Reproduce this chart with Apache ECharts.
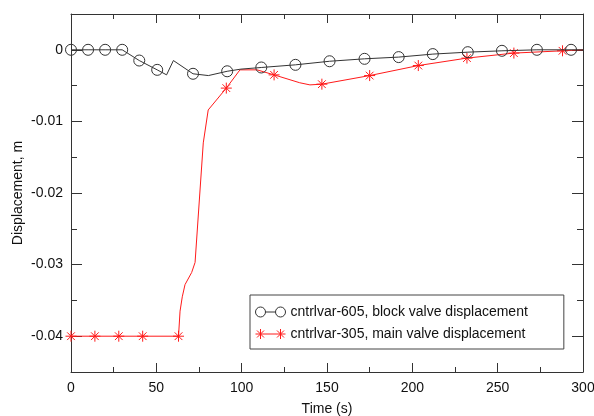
<!DOCTYPE html>
<html>
<head>
<meta charset="utf-8">
<script src="https://cdn.jsdelivr.net/npm/echarts@6/dist/echarts.min.js"></script>
<style>
  html, body { margin: 0; padding: 0; background: #fff; }
  #chart { width: 594px; height: 416px; }
</style>
</head>
<body>
<div id="chart"></div>
<script>
// Block valve displacement (cntrlvar-605)
const blockTime = [0, 10, 20, 30, 40, 50.5, 56, 60, 71.5, 80.5, 91.5, 99.5, 111.5, 131.5, 151.5, 172, 192, 212, 232.5, 252.5, 273, 293, 300];
const blockDisp = [0, 0, 0, 0, -0.0015, -0.0028, -0.0035, -0.0015, -0.00335, -0.0036, -0.003, -0.0027, -0.00247, -0.0021, -0.0016, -0.00126, -0.00102, -0.0006, -0.00033, -0.00014, 0, 0, 0];
const blockMarkerAt = [0, 10, 20, 30, 40, 50.5, 71.5, 91.5, 111.5, 131.5, 151.5, 172, 192, 212, 232.5, 252.5, 273, 293];

// Main valve displacement (cntrlvar-305)
const mainTime = [0, 14, 28, 42, 63, 63.9, 65.2, 66.8, 70.7, 72.7, 77.5, 80.4, 91, 99, 109, 119, 134, 140, 147, 175, 203.5, 232, 259.5, 288, 300];
const mainDisp = [-0.04, -0.04, -0.04, -0.04, -0.04, -0.0365, -0.0345, -0.0328, -0.0311, -0.0297, -0.013, -0.0084, -0.00535, -0.0028, -0.0028, -0.0035, -0.0046, -0.0049, -0.0048, -0.0036, -0.0022, -0.00116, -0.00046, -0.00014, 0];
const mainMarkerAt = [0, 14, 28, 42, 63, 91, 119, 147, 175, 203.5, 232, 259.5, 288];

const seriesNames = ['cntrlvar-605, block valve displacement', 'cntrlvar-305, main valve displacement'];
const xTicks = { min: 0, max: 300, step: 50 };
const yTicks = { min: -0.045, max: 0.005, step: 0.005, labelStep: 0.01 };

const INK = '#111';
const AXIS = '#333';
const FONT = 'Liberation Sans, Arial, sans-serif';

const asterisk = 'path://M0,5 L10,5 M5,0 L5,10 M1.5,1.5 L8.5,8.5 M8.5,1.5 L1.5,8.5';
const circleIcon = 'path://M0,5 A5,5 0 1,1 10,5 A5,5 0 1,1 0,5 Z M10,5 L20,5 M20,5 A5,5 0 1,1 30,5 A5,5 0 1,1 20,5 Z';
const starIcon = 'path://M0,5 L30,5 M5,0 L5,10 M1.5,1.5 L8.5,8.5 M8.5,1.5 L1.5,8.5 M25,0 L25,10 M21.5,1.5 L28.5,8.5 M28.5,1.5 L21.5,8.5';

function buildData(times, values, markers) {
  return times.map((t, i) => {
    const item = { value: [t, values[i]] };
    if (markers.indexOf(t) < 0) item.symbol = 'none';
    return item;
  });
}

function xAxisCfg(position, withLabels) {
  return {
    type: 'value', position: position,
    min: xTicks.min, max: xTicks.max, interval: xTicks.step,
    axisLine: { show: true, onZero: false, lineStyle: { color: AXIS, width: 1 } },
    axisTick: { show: true, inside: true, length: 9, lineStyle: { color: AXIS } },
    minorTick: { show: true, splitNumber: 2, length: 5, lineStyle: { color: AXIS } },
    splitLine: { show: false }, minorSplitLine: { show: false },
    axisLabel: { show: withLabels, fontSize: 14, color: INK, fontFamily: FONT, margin: 9 },
    name: withLabels ? 'Time (s)' : '',
    nameLocation: 'middle', nameGap: 30, nameMoveOverlap: false,
    nameTextStyle: { fontSize: 14, color: INK, fontFamily: FONT }
  };
}

function yMinorCfg(position, withLabels) {
  return {
    type: 'value', position: position,
    min: yTicks.min, max: yTicks.max, interval: yTicks.step,
    axisLine: { show: true, onZero: false, lineStyle: { color: AXIS, width: 1 } },
    axisTick: { show: true, inside: true, length: 6, lineStyle: { color: AXIS } },
    splitLine: { show: false },
    axisLabel: {
      show: withLabels, fontSize: 14, color: INK, fontFamily: FONT, margin: 8,
      formatter: function (v) {
        const k = Math.round(v / yTicks.step);
        const per = Math.round(yTicks.labelStep / yTicks.step);
        if (k % per !== 0 || v > 0) return '';
        const r = Math.round(v * 100) / 100;
        return r === 0 ? '0' : String(r);
      }
    },
    name: withLabels ? 'Displacement, m' : '',
    nameLocation: 'middle', nameGap: 46, nameMoveOverlap: false,
    nameTextStyle: { fontSize: 14, color: INK, fontFamily: FONT }
  };
}

function yMajorCfg(position) {
  return {
    type: 'value', position: position,
    min: yTicks.min, max: yTicks.max, splitNumber: 5,
    axisLine: { show: false, onZero: false },
    axisTick: { show: true, inside: true, length: 11, lineStyle: { color: AXIS } },
    splitLine: { show: false },
    axisLabel: { show: false }
  };
}

const chart = echarts.init(document.getElementById('chart'), null, { renderer: 'canvas' });
chart.setOption({
  animation: false,
  backgroundColor: '#fff',
  textStyle: { fontFamily: FONT },
  grid: { left: 71, right: 11, top: 14, bottom: 44, containLabel: false, outerBoundsMode: 'none' },
  xAxis: [xAxisCfg('bottom', true), xAxisCfg('top', false)],
  yAxis: [yMinorCfg('left', true), yMajorCfg('left'), yMinorCfg('right', false), yMajorCfg('right')],
  legend: {
    orient: 'vertical', left: 250, top: 295,
    padding: [9, 36, 7, 5], itemGap: 6,
    itemWidth: 30, itemHeight: 10,
    borderColor: '#444', borderWidth: 1, backgroundColor: '#fff',
    textStyle: { fontSize: 14, color: INK, fontFamily: FONT, lineHeight: 16 },
    data: [
      { name: seriesNames[0], icon: circleIcon,
        itemStyle: { color: 'rgba(0,0,0,0)', borderColor: '#333', borderWidth: 1 } },
      { name: seriesNames[1], icon: starIcon,
        itemStyle: { color: 'rgba(0,0,0,0)', borderColor: '#ff1a1a', borderWidth: 1 } }
    ]
  },
  series: [
    {
      name: seriesNames[1], type: 'line', xAxisIndex: 0, yAxisIndex: 0,
      data: buildData(mainTime, mainDisp, mainMarkerAt),
      showSymbol: true, showAllSymbol: true,
      symbol: asterisk, symbolSize: 11,
      lineStyle: { color: '#ff1a1a', width: 1 },
      itemStyle: { color: 'rgba(0,0,0,0)', borderColor: '#ff1a1a', borderWidth: 1 },
      emphasis: { disabled: true }, z: 2
    },
    {
      name: seriesNames[0], type: 'line', xAxisIndex: 0, yAxisIndex: 0,
      data: buildData(blockTime, blockDisp, blockMarkerAt),
      showSymbol: true, showAllSymbol: true,
      symbol: 'circle', symbolSize: 11,
      lineStyle: { color: '#333', width: 1 },
      itemStyle: { color: 'rgba(0,0,0,0)', borderColor: '#333', borderWidth: 1 },
      emphasis: { disabled: true }, z: 3
    }
  ]
});
</script>
</body>
</html>
